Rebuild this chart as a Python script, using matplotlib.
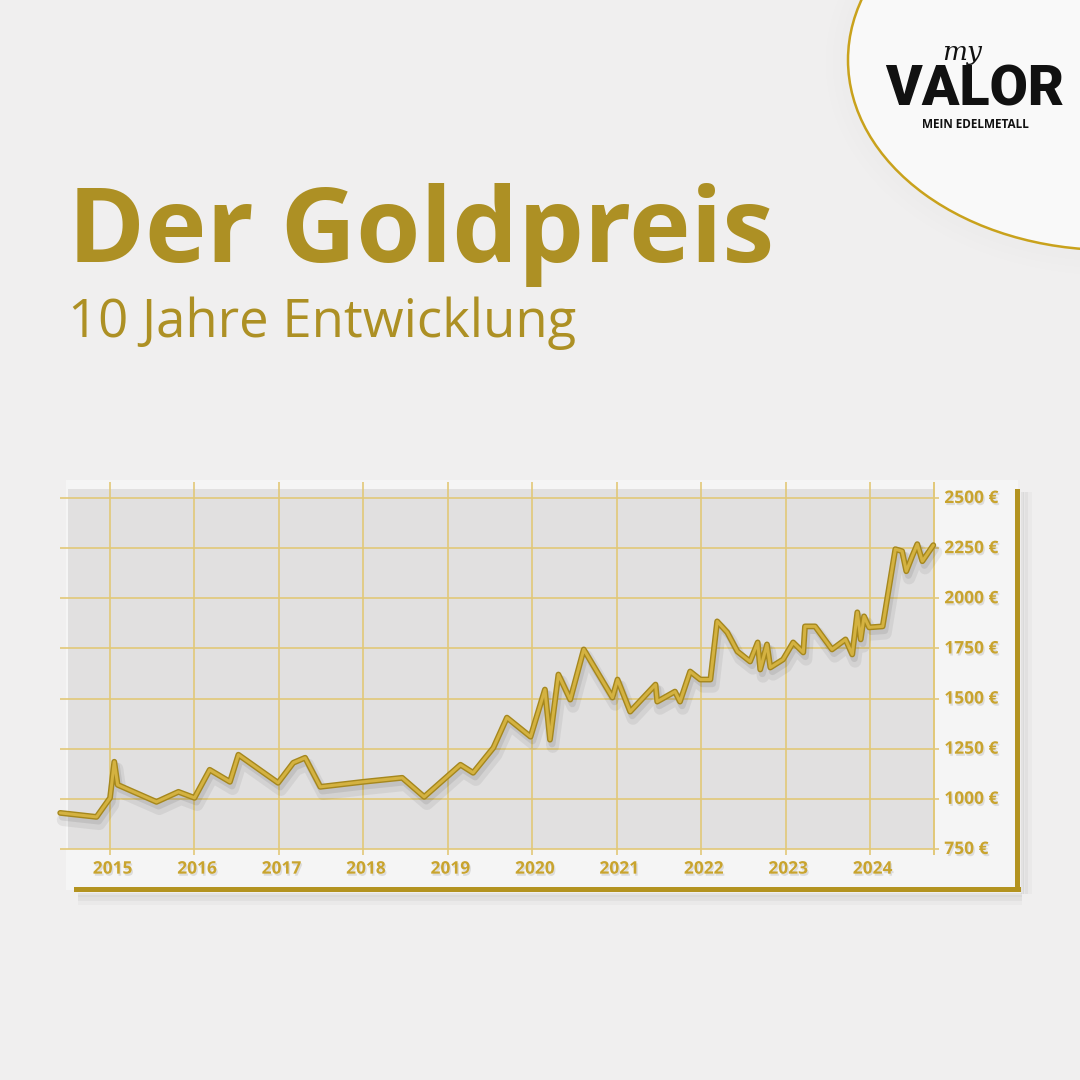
import matplotlib
matplotlib.use("Agg")
import matplotlib.pyplot as plt
import matplotlib.patheffects as pe
from matplotlib.patches import Ellipse, Rectangle

# gold price (EUR per ounce)
years = [2014.41, 2014.84, 2015.00, 2015.05, 2015.09, 2015.55, 2015.81, 2016.00,
         2016.18, 2016.42, 2016.52, 2016.99, 2017.17, 2017.31, 2017.49, 2018.00,
         2018.46, 2018.72, 2019.15, 2019.30, 2019.54, 2019.70, 2019.98, 2020.15,
         2020.21, 2020.31, 2020.45, 2020.61, 2020.95, 2021.01, 2021.16, 2021.46,
         2021.48, 2021.69, 2021.75, 2021.87, 2021.99, 2022.11, 2022.19, 2022.31,
         2022.43, 2022.58, 2022.67, 2022.70, 2022.78, 2022.82, 2022.97, 2023.09,
         2023.21, 2023.23, 2023.35, 2023.55, 2023.71, 2023.79, 2023.85, 2023.89,
         2023.93, 2023.99, 2024.15, 2024.30, 2024.38, 2024.43, 2024.50, 2024.56,
         2024.62, 2024.75]
prices = [930, 910, 1005, 1185, 1070, 985, 1035, 1005,
          1145, 1085, 1220, 1080, 1180, 1205, 1060, 1085,
          1105, 1010, 1170, 1130, 1255, 1405, 1310, 1545,
          1295, 1620, 1495, 1745, 1505, 1595, 1435, 1570,
          1485, 1535, 1485, 1635, 1595, 1595, 1885, 1830,
          1735, 1685, 1780, 1645, 1770, 1655, 1695, 1780,
          1730, 1860, 1860, 1745, 1795, 1720, 1930, 1795,
          1910, 1855, 1860, 2245, 2235, 2135, 2210, 2270,
          2185, 2265]

year_ticks = [2015, 2016, 2017, 2018, 2019, 2020, 2021, 2022, 2023, 2024]
price_ticks = [750, 1000, 1250, 1500, 1750, 2000, 2250, 2500]
price_labels = [f"{p} €" for p in price_ticks]

GOLD = "#ad9024"
GOLD_LIGHT = "#d4b241"
GOLD_DARK = "#a5871d"
GRID = "#e2c878"
BG = "#f0efef"

fig = plt.figure(figsize=(10.8, 10.8), dpi=100)
fig.patch.set_facecolor(BG)

# decoration layer in pixel coordinates
deco = fig.add_axes([0, 0, 1, 1], zorder=0)
deco.set_xlim(0, 1080)
deco.set_ylim(1080, 0)
deco.axis("off")

# plate in the top right corner
for i, a in enumerate([0.04, 0.03, 0.02]):
    deco.add_patch(Ellipse((1112, 62), 530 + 14 * (i + 1), 384 + 14 * (i + 1),
                           facecolor="#d8d8d8", edgecolor="none", alpha=a))
deco.add_patch(Ellipse((1110, 60), 524, 380, facecolor="#f9f9f9",
                       edgecolor="#c9a21c", linewidth=1.8))

# panel behind the chart and the gold frame
deco.add_patch(Rectangle((66, 480), 952, 410, facecolor="#f5f5f5", edgecolor="none"))
for k, a in enumerate([0.05, 0.035, 0.025]):
    deco.add_patch(Rectangle((78, 893 + 2 * k), 944, 4 + 2 * k, facecolor="#000000",
                             edgecolor="none", alpha=a))
    deco.add_patch(Rectangle((1021 + 2 * k, 492), 3 + 2 * k, 402, facecolor="#000000",
                             edgecolor="none", alpha=a))
deco.add_patch(Rectangle((74, 887), 947, 5, facecolor="#b39320", edgecolor="none"))
deco.add_patch(Rectangle((1015, 489), 5, 403, facecolor="#b39320", edgecolor="none"))

# title and subtitle
fig.text(68 / 1080, 1 - 262 / 1080, "Der Goldpreis", fontsize=75, fontweight="bold",
         color=GOLD, family=["Open Sans", "DejaVu Sans"], ha="left", va="baseline")
fig.text(68 / 1080, 1 - 337 / 1080, "10 Jahre Entwicklung", fontsize=38, fontweight="normal",
         color=GOLD, family=["Open Sans", "DejaVu Sans"], ha="left", va="baseline")

# logo
fig.text(962 / 1080, 1 - 60 / 1080, "my", fontsize=19, style="italic", color="#111111",
         family=["DejaVu Serif"], ha="center", va="baseline")
fig.text(975 / 1080, 1 - 106 / 1080, "VALOR", fontsize=40, fontweight="black",
         color="#111111", family=["Roboto", "DejaVu Sans"], ha="center", va="baseline")
fig.text(975 / 1080, 1 - 128 / 1080, "MEIN EDELMETALL", fontsize=8.5, fontweight="bold",
         color="#111111", family=["Open Sans", "DejaVu Sans"], ha="center", va="baseline")

# chart
ax = fig.add_axes([68 / 1080, 1 - 849 / 1080, 866 / 1080, 360 / 1080], zorder=2)
ax.set_facecolor("#e1e0e0")
ax.set_xlim(2014.502, 2024.758)
ax.set_ylim(750, 2545)
for s in ax.spines.values():
    s.set_visible(False)
ax.set_xticks([])
ax.set_yticks([])

ax.vlines(year_ticks, 720, 2580, color=GRID, linewidth=1.2, clip_on=False, zorder=1)
ax.hlines(price_ticks, 2014.41, 2024.758, color=GRID, linewidth=1.2, clip_on=False, zorder=1)
ax.vlines([2024.758], 720, 2580, color=GRID, linewidth=1.4, clip_on=False, zorder=1)
ax.hlines(price_ticks, 2024.758, 2024.82, color=GRID, linewidth=1.2, clip_on=False, zorder=1)

txt_fx = [pe.withSimplePatchShadow(offset=(1, -1.5), shadow_rgbFace="#000000", alpha=0.10)]
for y in year_ticks:
    ax.text(y + 0.03, 652, str(y), ha="center", va="center", fontsize=12.5,
            fontweight="bold", color="#c9a42e", family=["Open Sans", "DejaVu Sans"],
            clip_on=False, path_effects=txt_fx)
for p, lab in zip(price_ticks, price_labels):
    ax.text(2024.88, p, lab, ha="left", va="center", fontsize=12.5,
            fontweight="bold", color="#c9a42e", family=["Open Sans", "DejaVu Sans"],
            clip_on=False, path_effects=txt_fx)

ax.plot(years, prices, color=GOLD_LIGHT, linewidth=2.2, solid_joinstyle="round",
        solid_capstyle="round", clip_on=False, zorder=3,
        path_effects=[pe.SimpleLineShadow(offset=(2, -5), shadow_color="#000000",
                                          alpha=0.06, linewidth=9),
                      pe.SimpleLineShadow(offset=(1.5, -3), shadow_color="#000000",
                                          alpha=0.08, linewidth=5),
                      pe.Stroke(linewidth=4.2, foreground=GOLD_DARK),
                      pe.Normal()])

fig.savefig("out.png", dpi=100, facecolor=fig.get_facecolor())
